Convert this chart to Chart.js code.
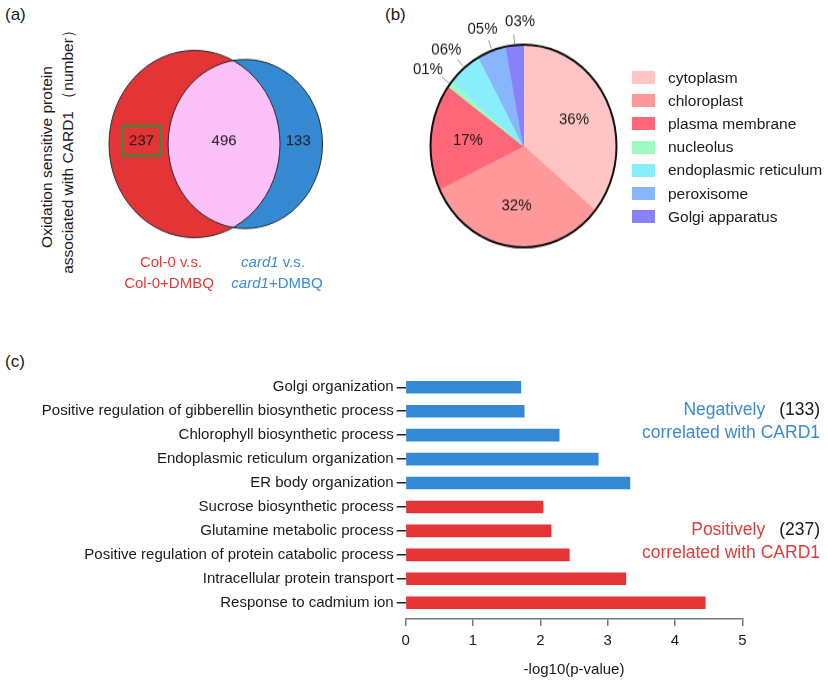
<!DOCTYPE html>
<html>
<head>
<meta charset="utf-8">
<script src="https://cdn.jsdelivr.net/npm/chart.js@4.4.0/dist/chart.umd.min.js"></script>
<style>
  html, body { margin: 0; padding: 0; background: #fff; }
  body { width: 828px; height: 687px; position: relative; overflow: hidden;
         font-family: "Liberation Sans", Arial, sans-serif; color: #1a1a1a; }
  .abs { position: absolute; white-space: nowrap; }
  .panel { font-size: 17px; }
  .rot { font-size: 15.5px; transform: translate(-50%, -50%) rotate(-90deg); }
  .setlab { font-size: 15px; transform: translate(-50%, -50%); }
  .red { color: #e23b3b; }
  .blue { color: #3a8ad6; }
  .note { font-size: 17.5px; text-align: right; line-height: 23px; }
  .note .n { color: #1a1a1a; margin-left: 14px; }
  #legend { left: 632px; top: 66px; font-size: 15.5px; }
  #legend .row { height: 23.2px; display: flex; align-items: center; }
  #legend .box { width: 23px; height: 13px; margin-right: 13px; }
  canvas { position: absolute; }
</style>
</head>
<body>
<div class="abs panel" style="left:5px;top:5px">(a)</div>
<div class="abs panel" style="left:385px;top:5px">(b)</div>
<div class="abs panel" style="left:5px;top:352px">(c)</div>

<div class="abs rot" style="left:47px;top:157px">Oxidation sensitive protein</div>
<div class="abs rot" style="left:68px;top:148px">associated with CARD1 （number）</div>

<canvas id="venn" width="380" height="300" style="left:0;top:0"></canvas>
<div class="abs setlab red" style="left:171px;top:261px">Col-0 v.s.</div>
<div class="abs setlab red" style="left:169px;top:282px">Col-0+DMBQ</div>
<div class="abs setlab blue" style="left:273px;top:261px"><i>card1</i> v.s.</div>
<div class="abs setlab blue" style="left:277px;top:282px"><i>card1</i>+DMBQ</div>

<canvas id="pie" width="260" height="300" style="left:400px;top:0"></canvas>
<div id="legend" class="abs"></div>

<canvas id="bars" width="828" height="347" style="left:0;top:340px"></canvas>
<div class="abs note" style="right:8px;top:398px"><span class="blue">Negatively</span><span class="n">(133)</span><br><span class="blue">correlated with CARD1</span></div>
<div class="abs note" style="right:8px;top:518px"><span class="red">Positively</span><span class="n">(237)</span><br><span class="red">correlated with CARD1</span></div>

<script>
// (a) Venn: only Col-0 set, shared, only card1 set
const vennRegionCounts = [237, 496, 133];
const vennColors = ["#e33436", "#3589d3"];
const vennOverlapColor = "#fbc0f7";

// (b) subcellular location of the proteins (%)
const compartments = ["cytoplasm", "chloroplast", "plasma membrane", "nucleolus",
  "endoplasmic reticulum", "peroxisome", "Golgi apparatus"];
const compartmentShare = [36, 32, 17, 1, 6, 5, 3];
const pieColors = ["#ffc4c4", "#ff9898", "#ff6678", "#a0f8c2", "#88eefc", "#88b6fc", "#8880fc"];

// (c) GO terms, -log10(p-value)
const negTerms = ["Golgi organization", "Positive regulation of gibberellin biosynthetic process",
  "Chlorophyll biosynthetic process", "Endoplasmic reticulum organization", "ER body organization"];
const negValues = [1.71, 1.76, 2.28, 2.86, 3.33];
const posTerms = ["Sucrose biosynthetic process", "Glutamine metabolic process",
  "Positive regulation of protein catabolic process", "Intracellular protein transport",
  "Response to cadmium ion"];
const posValues = [2.04, 2.16, 2.43, 3.27, 4.45];
const xTicks = [0, 1, 2, 3, 4, 5];

const FONT = '"Liberation Sans", Arial, sans-serif';
const TEXT = "#1a1a1a";

// the source figure is a bit taller than wide, so stretch the round parts
const VENN_Y = 1.095, PIE_Y = 1.09;
const vennCanvas = document.getElementById("venn");
vennCanvas.style.transformOrigin = "0 144px";
vennCanvas.style.transform = "scaleY(" + VENN_Y + ")";
const pieCanvas = document.getElementById("pie");
pieCanvas.style.transformOrigin = "123.5px 146px";
pieCanvas.style.transform = "scaleY(" + PIE_Y + ")";

function flatText(ctx, text, x, y, sy) {
  ctx.save();
  ctx.translate(x, y);
  ctx.scale(1, 1 / sy);
  ctx.fillText(text, 0, 0);
  ctx.restore();
}

// ---------- Venn ----------
const vennOverlap = {
  id: "vennOverlap",
  afterDatasetsDraw(chart) {
    const ctx = chart.ctx;
    const [a, b] = chart.getDatasetMeta(0).data;
    const ra = a.options.radius, rb = b.options.radius;
    ctx.save();
    ctx.beginPath();
    ctx.arc(a.x, a.y, ra, 0, Math.PI * 2);
    ctx.clip();
    ctx.beginPath();
    ctx.arc(b.x, b.y, rb, 0, Math.PI * 2);
    ctx.fillStyle = vennOverlapColor;
    ctx.fill();
    ctx.restore();

    ctx.save();
    ctx.strokeStyle = "#2a2a2a";
    ctx.lineWidth = 1;
    [[a, ra], [b, rb]].forEach(([p, r]) => {
      ctx.beginPath();
      ctx.arc(p.x, p.y, r, 0, Math.PI * 2);
      ctx.stroke();
    });

    const xs = [(a.x - ra + b.x - rb) / 2 + 3, (b.x - rb + a.x + ra) / 2, (a.x + ra + b.x + rb) / 2 - 3];
    const y = a.y - 3;
    ctx.font = "15px " + FONT;
    ctx.fillStyle = TEXT;
    ctx.textAlign = "center";
    ctx.textBaseline = "middle";
    vennRegionCounts.forEach((n, i) => flatText(ctx, String(n), xs[i], y, VENN_Y));
    ctx.strokeStyle = "#2f8f3a";
    ctx.lineWidth = 2;
    ctx.strokeRect(xs[0] - 19.5, y - 13.5, 39, 27);
    ctx.restore();
  }
};

new Chart(vennCanvas, {
  type: "bubble",
  data: {
    datasets: [{
      data: [{ x: 194.5, y: 144, r: 85.5 }, { x: 245.3, y: 144, r: 77.2 }],
      backgroundColor: vennColors,
      borderWidth: 0,
      clip: false
    }]
  },
  options: {
    responsive: false,
    animation: false,
    events: [],
    layout: { padding: 0, autoPadding: false },
    plugins: { legend: { display: false }, tooltip: { enabled: false } },
    scales: {
      x: { type: "linear", min: 0, max: 380, display: false },
      y: { type: "linear", min: 0, max: 300, reverse: true, display: false }
    }
  },
  plugins: [vennOverlap]
});

// ---------- Pie ----------
const pieDecor = {
  id: "pieDecor",
  afterDatasetsDraw(chart) {
    const ctx = chart.ctx;
    const arcs = chart.getDatasetMeta(0).data;
    const cx = arcs[0].x, cy = arcs[0].y, r = arcs[0].outerRadius;
    ctx.save();
    ctx.beginPath();
    ctx.arc(cx, cy, r, 0, Math.PI * 2);
    ctx.lineWidth = 2;
    ctx.strokeStyle = "#111";
    ctx.stroke();

    ctx.font = "15px " + FONT;
    ctx.textAlign = "center";
    ctx.textBaseline = "middle";
    ctx.fillStyle = TEXT;
    arcs.forEach((arc, i) => {
      const v = compartmentShare[i];
      const mid = (arc.startAngle + arc.endAngle) / 2;
      const dx = Math.cos(mid), dy = Math.sin(mid);
      const label = String(v).padStart(2, "0") + "%";
      if (v >= 10) {
        flatText(ctx, label, cx + dx * r * 0.6, cy + dy * r * 0.6, PIE_Y);
      } else {
        const ex = cx + dx * (r + 10), ey = cy + dy * (r + 10);
        ctx.beginPath();
        ctx.moveTo(cx + dx * (r + 1), cy + dy * (r + 1));
        ctx.lineTo(ex, ey);
        ctx.strokeStyle = "#9a9a9a";
        ctx.lineWidth = 1;
        ctx.stroke();
        const nudge = dy < -0.97 ? 8 : 0;
        flatText(ctx, label, ex + dx * 18 + nudge, ey + dy * 11, PIE_Y);
      }
    });
    ctx.restore();
  }
};

new Chart(pieCanvas, {
  type: "pie",
  data: {
    labels: compartments,
    datasets: [{
      data: compartmentShare,
      backgroundColor: pieColors,
      borderColor: pieColors,
      borderWidth: 1
    }]
  },
  options: {
    responsive: false,
    animation: false,
    events: [],
    layout: { padding: { left: 30, right: 43, top: 52.5, bottom: 60.5 } },
    plugins: { legend: { display: false }, tooltip: { enabled: false } }
  },
  plugins: [pieDecor]
});

const legendEl = document.getElementById("legend");
compartments.forEach((name, i) => {
  const row = document.createElement("div");
  row.className = "row";
  const box = document.createElement("span");
  box.className = "box";
  box.style.background = pieColors[i];
  const txt = document.createElement("span");
  txt.textContent = name;
  row.appendChild(box);
  row.appendChild(txt);
  legendEl.appendChild(row);
});

// ---------- Bars ----------
const terms = negTerms.concat(posTerms);

new Chart(document.getElementById("bars"), {
  type: "bar",
  data: {
    datasets: [
      {
        label: "Negatively correlated with CARD1",
        data: negValues.map((v, i) => ({ x: v, y: i })),
        backgroundColor: "#3589d4"
      },
      {
        label: "Positively correlated with CARD1",
        data: posValues.map((v, i) => ({ x: v, y: negTerms.length + i })),
        backgroundColor: "#e33436"
      }
    ]
  },
  options: {
    indexAxis: "y",
    responsive: false,
    animation: false,
    events: [],
    layout: { padding: { left: 0, right: 85.7, top: 35.3, bottom: 0 } },
    datasets: { bar: { barThickness: 12, grouped: false } },
    plugins: { legend: { display: false }, tooltip: { enabled: false } },
    scales: {
      y: {
        type: "linear",
        reverse: true,
        offset: false,
        min: -0.5,
        max: 9.68,
        afterBuildTicks: (scale) => { scale.ticks = terms.map((_, i) => ({ value: i })); },
        afterFit: (scale) => { scale.width = 405.7; },
        ticks: {
          autoSkip: false,
          padding: 3,
          color: TEXT,
          font: { family: FONT, size: 15 },
          callback: (v) => terms[v]
        },
        grid: { offset: false, drawOnChartArea: false, tickLength: 9, tickColor: "#222", lineWidth: 1.5 },
        border: { display: false }
      },
      x: {
        type: "linear",
        min: 0,
        max: 5,
        afterBuildTicks: (scale) => { scale.ticks = xTicks.map((v) => ({ value: v })); },
        afterFit: (scale) => { scale.height = 68; },
        ticks: { color: TEXT, padding: 6, font: { family: FONT, size: 15 } },
        grid: { drawOnChartArea: false, tickLength: 7, tickColor: "#777", lineWidth: 1.5 },
        border: { color: "#777", width: 1.5 },
        title: {
          display: true,
          text: "-log10(p-value)",
          color: TEXT,
          font: { family: FONT, size: 15 },
          padding: { top: 4, bottom: 8 }
        }
      }
    }
  }
});
</script>
</body>
</html>
